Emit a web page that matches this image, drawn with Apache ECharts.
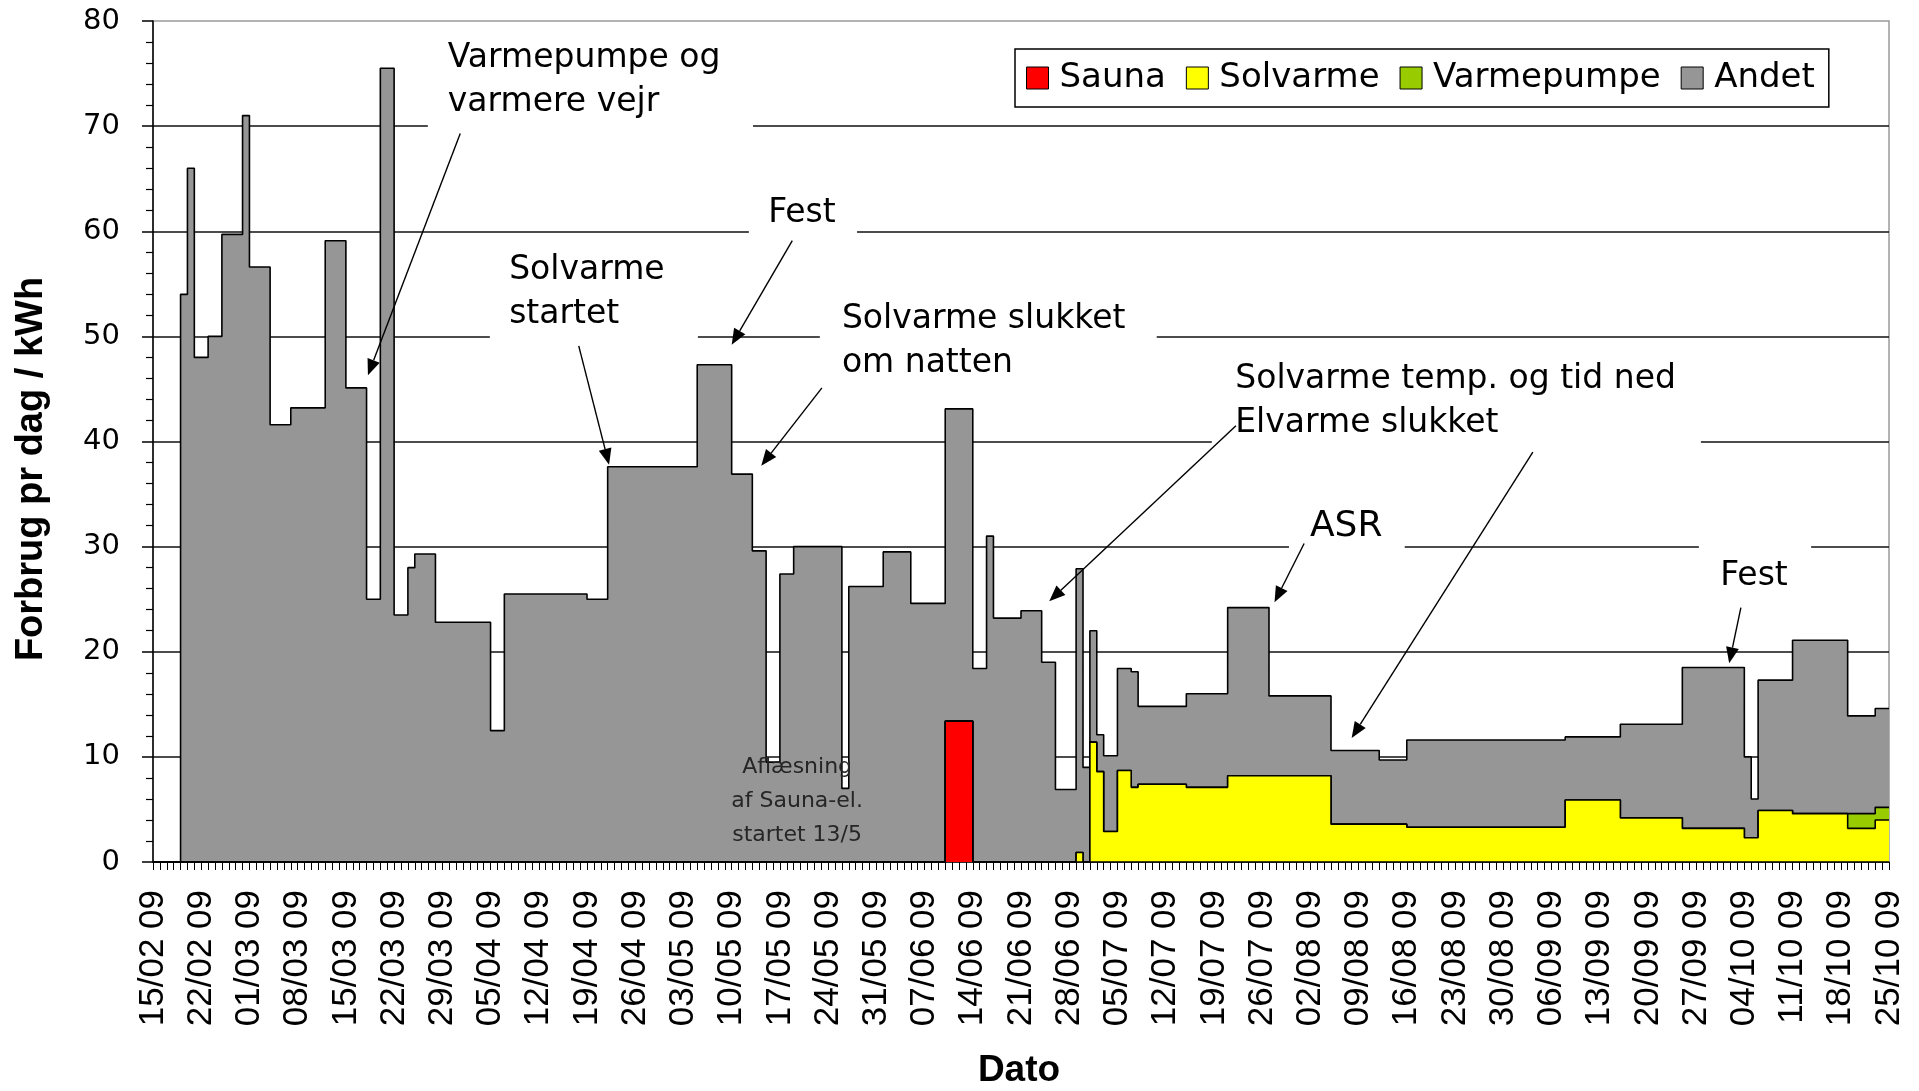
<!DOCTYPE html>
<html>
<head>
<meta charset="utf-8">
<script src="https://cdn.jsdelivr.net/npm/echarts/dist/echarts.min.js"></script>
<style>
html, body { margin: 0; padding: 0; background: #fff; }
#main { width: 1919px; height: 1091px; }
</style>
</head>
<body>
<div id="main"></div>
<script>
// dag 0 = 15/02 09, en kolonne pr dag
var lastDay = 252;
var tickLabels = ['15/02 09','22/02 09','01/03 09','08/03 09','15/03 09','22/03 09','29/03 09','05/04 09','12/04 09',
  '19/04 09','26/04 09','03/05 09','10/05 09','17/05 09','24/05 09','31/05 09','07/06 09','14/06 09','21/06 09',
  '28/06 09','05/07 09','12/07 09','19/07 09','26/07 09','02/08 09','09/08 09','16/08 09','23/08 09','30/08 09',
  '06/09 09','13/09 09','20/09 09','27/09 09','04/10 09','11/10 09','18/10 09','25/10 09'];

// forbrug i kWh, værdien gælder fra den dag og frem til næste skift
var saunaDays = [115, 119];
var saunaVals = [13.4, 0];

var solvarmeDays = [134, 135, 136, 137, 138, 140, 142, 143, 150, 156, 171, 182, 205, 213, 222, 231, 233, 238, 246, 250];
var solvarmeVals = [0.9, 0, 11.4, 8.6, 2.9, 8.7, 7.1, 7.4, 7.1, 8.2, 3.6, 3.3, 5.9, 4.2, 3.2, 2.3, 4.9, 4.6, 3.2, 4.0];

var varmepumpeDays = [246, 250];
var varmepumpeVals = [1.4, 1.2];

var andetDays = [4, 5, 6, 8, 10, 13, 14, 17, 20, 25, 28, 31, 33, 35, 37, 38, 41, 49, 51, 63, 66, 79, 84, 87, 89, 91, 93,
  100, 101, 106, 110, 115, 119, 121, 122, 126, 129, 131, 134, 135, 136, 137, 138, 140, 142, 143, 150, 156, 162, 171,
  178, 182, 205, 213, 222, 231, 232, 233, 238, 246, 250];
var andetVals = [54, 66, 48, 50, 59.7, 71, 56.6, 41.6, 43.2, 59.1, 45.1, 25, 75.5, 23.5, 28, 29.3, 22.8, 12.5, 25.5, 25,
  37.6, 47.3, 36.9, 29.6, 9.5, 27.4, 30, 7, 26.2, 29.5, 24.6, 29.7, 18.4, 31, 23.2, 23.9, 19, 6.9, 27, 9, 10.6, 3.5,
  7.2, 9.7, 11, 7.4, 8.9, 16, 7.6, 7, 6.1, 8.3, 6, 8.9, 15.3, 7.7, 3.7, 12.4, 16.5, 9.3, 9.4];

// kommentarer i data-koordinater [dag, kWh]
var noteBoxes = [
  [39.9, 78.9, 87.1, 69.6], [86.5, 63.4, 102.2, 59.5], [48.9, 58.2, 79.1, 49.6], [96.8, 53.4, 145.7, 45.3],
  [153.7, 47.7, 224.7, 39.5], [164.9, 33.9, 181.7, 28.7], [224.4, 30.6, 240.7, 24.9]
];
var noteTexts = [
  { text: 'Varmepumpe og\nvarmere vejr', at: [42.8, 74.3], align: 'left' },
  { text: 'Fest', at: [94.2, 61.7], align: 'center' },
  { text: 'Solvarme\nstartet', at: [51.7, 54.2], align: 'left' },
  { text: 'Solvarme slukket\nom natten', at: [100.0, 49.5], align: 'left' },
  { text: 'Solvarme temp. og tid ned\nElvarme slukket', at: [157.1, 43.8], align: 'left' },
  { text: 'ASR', at: [173.2, 31.9], align: 'center', size: 36 },
  { text: 'Fest', at: [232.4, 27.2], align: 'center' },
  { text: 'Aflæsning\naf Sauna-el.\nstartet 13/5', at: [93.5, 5.76], align: 'center', size: 22, lh: 34, color: '#262626' }
];
var noteArrows = [
  [[44.6, 69.3], [31.2, 46.3]], [[92.8, 59.1], [84.0, 49.2]], [[61.8, 49.1], [66.2, 37.8]], [[97.1, 45.1], [88.3, 37.7]],
  [[157.2, 41.5], [130.1, 24.8]], [[200.3, 39.0], [174.0, 11.8]], [[167.1, 30.3], [162.8, 24.7]], [[230.5, 24.2], [228.8, 18.9]]
];

var dayIndex = [];
for (var i = 0; i <= lastDay; i++) dayIndex.push(String(i));

function expand(days, vals) {
  var out = [];
  var k = -1;
  for (var d = 0; d <= lastDay; d++) {
    while (k + 1 < days.length && days[k + 1] <= d) k++;
    out.push(k >= 0 ? vals[k] : 0);
  }
  return out;
}

function areaSeries(name, fill, days, vals, z) {
  return {
    name: name, type: 'line', stack: 'total', step: 'end', z: z,
    showSymbol: false, symbol: 'none', color: fill,
    lineStyle: { color: '#000', width: 1.6 },
    areaStyle: { color: fill, opacity: 1 },
    emphasis: { disabled: true },
    data: expand(days, vals)
  };
}

var chart = echarts.init(document.getElementById('main'), null, { renderer: 'canvas' });
var sans = '"DejaVu Sans", sans-serif';
var arial = '"Liberation Sans", Arial, sans-serif';

var option = {
  animation: false,
  backgroundColor: '#fff',
  grid: { left: 153, right: 30, top: 21, bottom: 229, show: true, borderColor: '#9a9a9a', borderWidth: 1.5, backgroundColor: 'transparent', outerBoundsMode: 'none' },
  legend: {
    left: 1015, top: 49, orient: 'horizontal', selectedMode: false, z: 20,
    padding: [12, 14, 12, 11], itemGap: 20, itemWidth: 22, itemHeight: 22,
    backgroundColor: '#fff', borderColor: '#000', borderWidth: 1.5,
    icon: 'rect',
    itemStyle: { borderColor: '#000', borderWidth: 1 },
    textStyle: { fontFamily: sans, fontSize: 34, color: '#000', padding: [0, 0, 0, 6] },
    data: [
      { name: 'Sauna', itemStyle: { color: '#ff0000' } },
      { name: 'Solvarme', itemStyle: { color: '#ffff00' } },
      { name: 'Varmepumpe', itemStyle: { color: '#99cc00' } },
      { name: 'Andet', itemStyle: { color: '#969696' } }
    ]
  },
  xAxis: {
    type: 'category', data: dayIndex, boundaryGap: false,
    axisLine: { show: true, onZero: false, lineStyle: { color: '#000', width: 1.5 } },
    axisTick: { show: true, interval: 0, length: 8, lineStyle: { color: '#000', width: 1 } },
    splitLine: { show: false },
    axisLabel: {
      interval: 6, rotate: 90, margin: 28, color: '#000', fontFamily: arial, fontSize: 35,
      formatter: function (v, idx) { return tickLabels[Math.round(idx / 7)] || ''; }
    }
  },
  yAxis: {
    type: 'value', min: 0, max: 80, interval: 10,
    axisLine: { show: true, lineStyle: { color: '#000', width: 1.5 } },
    axisTick: { show: true, length: 11, lineStyle: { color: '#000', width: 1.5 } },
    minorTick: { show: true, splitNumber: 5, length: 7, lineStyle: { color: '#000', width: 1.2 } },
    splitLine: { show: true, showMinLine: false, showMaxLine: false, lineStyle: { color: '#111', width: 1.5 } },
    axisLabel: { margin: 33, color: '#000', fontFamily: sans, fontSize: 29 }
  },
  series: [
    areaSeries('Sauna', '#ff0000', saunaDays, saunaVals, 2.4),
    areaSeries('Solvarme', '#ffff00', solvarmeDays, solvarmeVals, 2.3),
    areaSeries('Varmepumpe', '#99cc00', varmepumpeDays, varmepumpeVals, 2.2),
    areaSeries('Andet', '#969696', andetDays, andetVals, 2.1)
  ]
};
chart.setOption(option);

// kommentarer, pile og akse-titler (dag -> pixel via aksens egne ender)
var pA = chart.convertToPixel({ gridIndex: 0 }, [0, 0]);
var pB = chart.convertToPixel({ gridIndex: 0 }, [lastDay, 80]);
function px(p) {
  return [pA[0] + (pB[0] - pA[0]) * p[0] / lastDay, pA[1] + (pB[1] - pA[1]) * p[1] / 80];
}
var els = [];
noteBoxes.forEach(function (b) {
  var a = px([b[0], b[1]]), c = px([b[2], b[3]]);
  els.push({ type: 'rect', z: 1, shape: { x: a[0], y: a[1], width: c[0] - a[0], height: c[1] - a[1] }, style: { fill: '#fff' } });
});
noteTexts.forEach(function (t) {
  var p = px(t.at);
  els.push({
    type: 'text', z: 100, x: p[0], y: p[1],
    style: { text: t.text, fill: t.color || '#000', font: (t.size || 33) + 'px ' + sans, align: t.align, verticalAlign: 'middle', lineHeight: t.lh || 44 }
  });
});
noteArrows.forEach(function (ar) {
  var s = px(ar[0]), e = px(ar[1]);
  var dx = e[0] - s[0], dy = e[1] - s[1], len = Math.sqrt(dx * dx + dy * dy);
  var ux = dx / len, uy = dy / len, hl = 16, hw = 6.5;
  var bx = e[0] - ux * hl, by = e[1] - uy * hl;
  els.push({ type: 'line', z: 100, shape: { x1: s[0], y1: s[1], x2: bx, y2: by }, style: { stroke: '#000', lineWidth: 1.4 } });
  els.push({ type: 'polygon', z: 100, shape: { points: [[e[0], e[1]], [bx - uy * hw, by + ux * hw], [bx + uy * hw, by - ux * hw]] }, style: { fill: '#000' } });
});
els.push({ type: 'text', z: 100, x: 32, y: 469, rotation: Math.PI / 2,
  style: { text: 'Forbrug pr dag / kWh', fill: '#000', font: 'bold 38px ' + arial, align: 'center', verticalAlign: 'middle' } });
els.push({ type: 'text', z: 100, x: 1019, y: 1071,
  style: { text: 'Dato', fill: '#000', font: 'bold 37px ' + arial, align: 'center', verticalAlign: 'middle' } });

chart.setOption({ graphic: { elements: els } });
</script>
</body>
</html>
